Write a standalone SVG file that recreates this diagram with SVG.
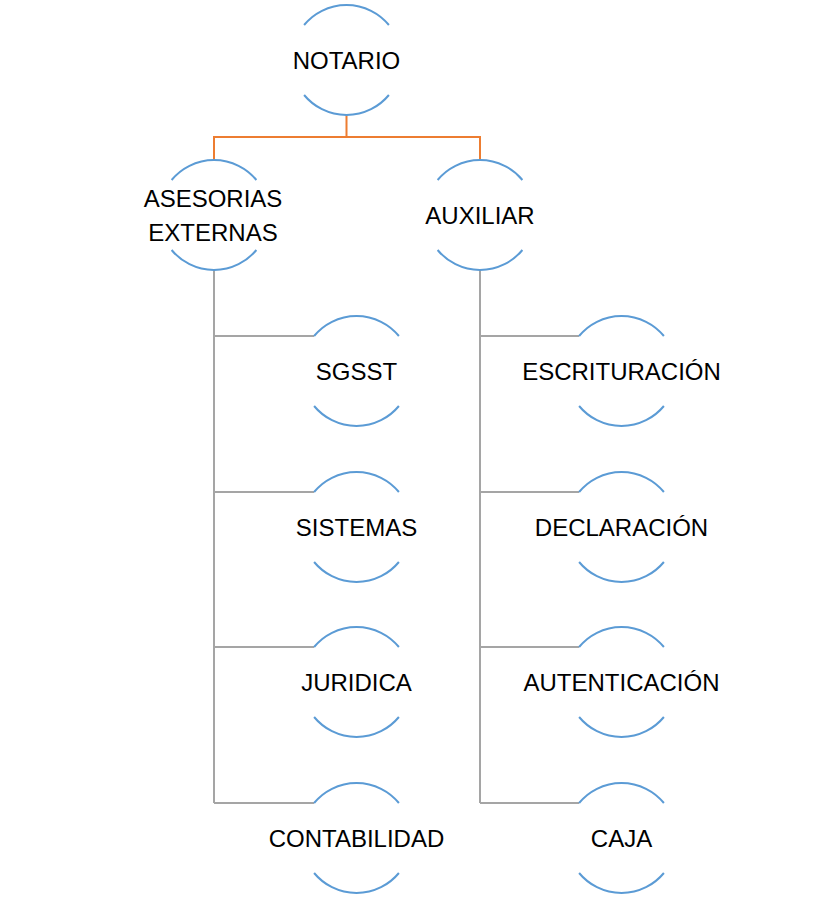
<svg xmlns="http://www.w3.org/2000/svg" width="835" height="899" viewBox="0 0 835 899">
<defs>
<style>
.arc{fill:none;stroke:#5B9BD5;stroke-width:2}
.o{fill:none;stroke:#ED7D31;stroke-width:2}
.g{fill:none;stroke:#A5A5A5;stroke-width:2}
text{font-family:"Liberation Sans",Arial,sans-serif;font-size:24px;fill:#000;text-anchor:middle}
</style>
<path id="ring" class="arc" d="M-42.4,-35 A55,55 0 0 1 42.4,-35 M-42.4,35 A55,55 0 0 0 42.4,35"/>
</defs>
<rect width="835" height="899" fill="#fff"/>
<g id="connectors">
<path class="o" d="M346.5,115 V137 M214,161 V137 H480 V161"/>
<path class="g" d="M214,270 V803 M214,336 H314 M214,492 H314 M214,647 H314 M214,803 H314"/>
<path class="g" d="M480,270 V803 M480,336 H579 M480,492 H579 M480,647 H579 M480,803 H579"/>
</g>
<g id="notario"><use href="#ring" x="346.5" y="60"/><text x="346.5" y="68.5">NOTARIO</text></g>
<g id="asesorias"><use href="#ring" x="214" y="215"/><text x="213" y="207">ASESORIAS</text><text x="213" y="240.5">EXTERNAS</text></g>
<g id="auxiliar"><use href="#ring" x="480" y="215"/><text x="480" y="223.5">AUXILIAR</text></g>
<g id="sgsst"><use href="#ring" x="356.5" y="371"/><text x="356.5" y="379.5">SGSST</text></g>
<g id="sistemas"><use href="#ring" x="356.5" y="527"/><text x="356.5" y="535.5">SISTEMAS</text></g>
<g id="juridica"><use href="#ring" x="356.5" y="682"/><text x="356.5" y="690.5">JURIDICA</text></g>
<g id="contabilidad"><use href="#ring" x="356.5" y="838"/><text x="356.5" y="846.5">CONTABILIDAD</text></g>
<g id="escrituracion"><use href="#ring" x="621.5" y="371"/><text x="621.5" y="379.5">ESCRITURACIÓN</text></g>
<g id="declaracion"><use href="#ring" x="621.5" y="527"/><text x="621.5" y="535.5">DECLARACIÓN</text></g>
<g id="autenticacion"><use href="#ring" x="621.5" y="682"/><text x="621.5" y="690.5">AUTENTICACIÓN</text></g>
<g id="caja"><use href="#ring" x="621.5" y="838"/><text x="621.5" y="846.5">CAJA</text></g>
</svg>
